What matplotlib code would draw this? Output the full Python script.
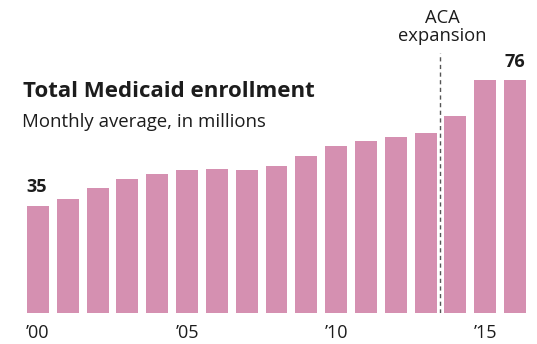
import matplotlib
matplotlib.use('Agg')
import matplotlib.pyplot as plt

# Total Medicaid enrollment, monthly average in millions
years = list(range(2000, 2017))
enrollment = [35, 37.3, 40.8, 43.8, 45.4, 46.7, 47.1, 46.7, 48.0, 51.3,
              54.6, 56.2, 57.5, 58.8, 64.4, 76, 76]
tick_years = [2000, 2005, 2010, 2015]
tick_labels = ['\u201900', '\u201905', '\u201910', '\u201915']
aca_year = 2013.5

plt.rcParams['font.family'] = ['Open Sans', 'DejaVu Sans']
ink = '#1c1c1c'

W, H = 537, 344
fig = plt.figure(figsize=(W / 100, H / 100), dpi=100)

# axes placed in pixel units
px = 29.8
left = 38 - px / 2
right = 515 + px / 2
base = 313
scale = 3.06  # pixels per million
ax = fig.add_axes([left / W, (H - base) / H, (right - left) / W, base / H])
ax.set_xlim(years[0] - 0.5, years[-1] + 0.5)
ax.set_ylim(0, base / scale)
ax.axis('off')

bar_color = '#d590b1'
ax.bar(years, enrollment, width=0.735, color=bar_color)

# dashed ACA line
ax.plot([aca_year, aca_year], [0, (base - 53) / scale], color='#555555',
        linestyle=(0, (3, 2.5)), linewidth=1)
ax.text(aca_year + 0.05, (base - 23) / scale, 'ACA', ha='center', va='baseline',
        fontsize=13.2, color=ink)
ax.text(aca_year + 0.05, (base - 41) / scale, 'expansion', ha='center', va='baseline',
        fontsize=13.2, color=ink)

# value labels for first and last bar
ax.text(years[0] - 0.03, enrollment[0] + 4.4, '35', ha='center', va='baseline',
        fontsize=13, fontweight='bold', color=ink)
ax.text(years[-1], enrollment[-1] + 4.4, '76', ha='center', va='baseline',
        fontsize=13, fontweight='bold', color=ink)

# tick labels
for yr, lab in zip(tick_years, tick_labels):
    ax.text(yr, -(338.3 - base) / scale, lab, ha='center', va='baseline',
            fontsize=13, color=ink)

# title and subtitle
fig.text(23 / W, 1 - 96.7 / H, 'Total Medicaid enrollment', ha='left', va='baseline',
         fontsize=16, fontweight='bold', color=ink)
fig.text(22 / W, 1 - 126.7 / H, 'Monthly average, in millions', ha='left', va='baseline',
         fontsize=13.4, color=ink)

fig.savefig('out.png', dpi=100)
